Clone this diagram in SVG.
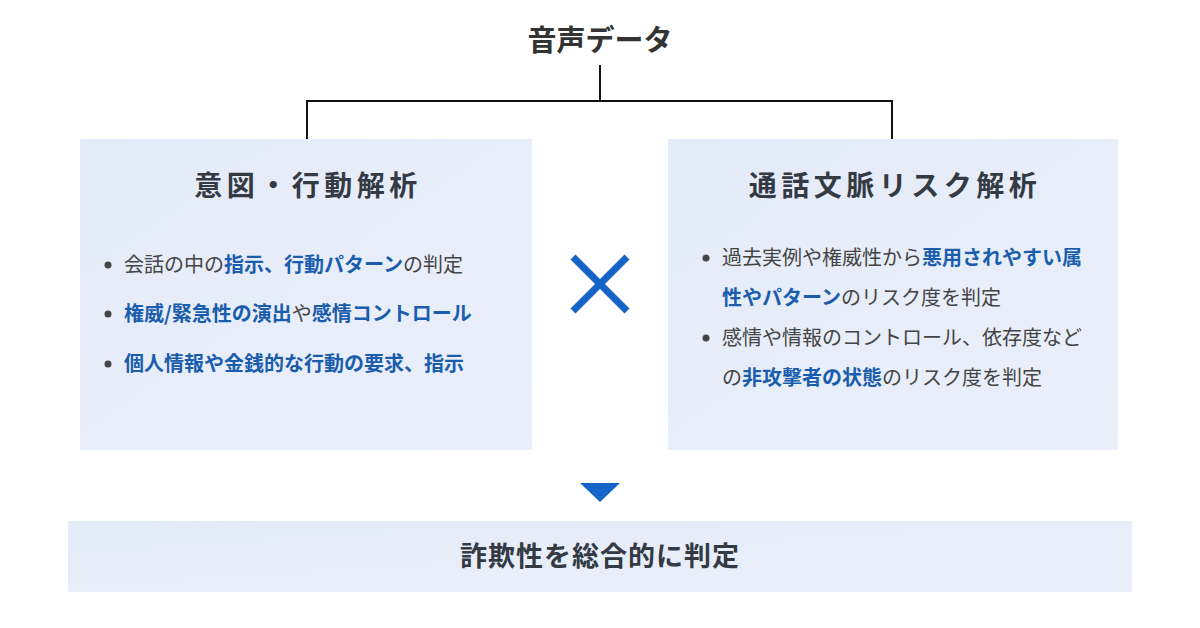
<svg xmlns="http://www.w3.org/2000/svg" width="1200" height="628" viewBox="0 0 1200 628">
<defs>
<style>
text{font-family:"Noto Sans CJK JP","Noto Sans",sans-serif;}
.title{font-size:29px;font-weight:700;fill:#333;}
.h{font-size:28px;font-weight:700;fill:#333a44;letter-spacing:4.5px;}
.b{font-size:20px;fill:#444;}
.em{font-weight:700;fill:#1a5dad;}
.box{fill:#e7edf9;}
.dot{fill:#444;}
.conn{stroke:#111;stroke-width:2;fill:none;}
.fin{font-size:27px;font-weight:700;fill:#333a44;letter-spacing:1px;}
</style>
<linearGradient id="g" x1="0" y1="0" x2="1" y2="1">
<stop offset="0" stop-color="#e4ebf8"/>
<stop offset="1" stop-color="#eaeffa"/>
</linearGradient>
</defs>
<rect width="1200" height="628" fill="#fff"/>
<g id="source">
<text class="title" x="600" y="51" text-anchor="middle">音声データ</text>
</g>
<g id="connectors">
<path class="conn" d="M600 65 V101 M307 101 H892 M307 100 V139 M892 100 V139"/>
<polygon points="580,483 620,483 600,502" fill="#1565c8"/>
</g>
<g id="left">
<rect x="80" y="139" width="452" height="311" fill="url(#g)"/>
<text class="h" x="308" y="196" text-anchor="middle">意図・行動解析</text>
<circle class="dot" cx="108" cy="265" r="3.5"/>
<text class="b" x="124" y="272">会話の中の<tspan class="em">指示、行動パターン</tspan>の判定</text>
<circle class="dot" cx="108" cy="314" r="3.5"/>
<text class="b" x="124" y="321"><tspan class="em">権威/緊急性の演出</tspan>や<tspan class="em">感情コントロール</tspan></text>
<circle class="dot" cx="108" cy="364" r="3.5"/>
<text class="b" x="124" y="371"><tspan class="em">個人情報や金銭的な行動の要求、指示</tspan></text>
</g>
<g id="cross">
<path d="M573 257 L627 311 M627 257 L573 311" stroke="#1565c8" stroke-width="7" fill="none"/>
</g>
<g id="right">
<rect x="668" y="139" width="450" height="311" fill="url(#g)"/>
<text class="h" x="895" y="196" text-anchor="middle">通話文脈リスク解析</text>
<circle class="dot" cx="706" cy="258" r="3.5"/>
<text class="b" x="722" y="265">過去実例や権威性から<tspan class="em">悪用されやすい属</tspan></text>
<text class="b" x="722" y="305"><tspan class="em">性やパターン</tspan>のリスク度を判定</text>
<circle class="dot" cx="706" cy="338" r="3.5"/>
<text class="b" x="722" y="345">感情や情報のコントロール、依存度など</text>
<text class="b" x="722" y="385">の<tspan class="em">非攻撃者の状態</tspan>のリスク度を判定</text>
</g>
<g id="result">
<rect x="68" y="521" width="1064" height="71" fill="url(#g)"/>
<text class="fin" x="600" y="566" text-anchor="middle">詐欺性を総合的に判定</text>
</g>
</svg>
